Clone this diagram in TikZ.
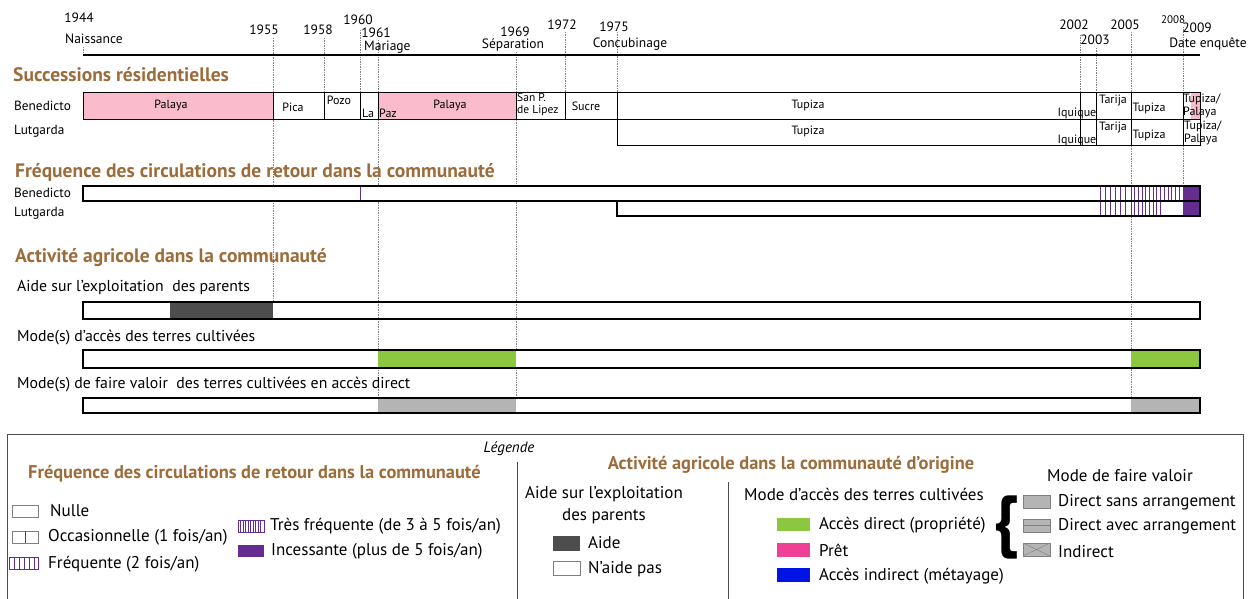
\documentclass[tikz,border=0pt]{standalone}
\usepackage{fontspec}
\setmainfont{PT Sans}
\definecolor{brn}{RGB}{156,108,58}
\definecolor{pinkc}{RGB}{250,188,204}
\definecolor{purp}{RGB}{102,45,145}
\definecolor{darkg}{RGB}{77,77,77}
\definecolor{greenc}{RGB}{141,198,63}
\definecolor{grayc}{RGB}{180,180,180}
\definecolor{hotpink}{RGB}{238,64,150}
\definecolor{bluec}{RGB}{0,20,230}
\newcommand\fsz[1]{\fontsize{#1}{#1}\selectfont}
\tikzset{
 yr/.style={font=\fsz{13.5}, inner sep=0},
 ttl/.style={font=\bfseries\fsz{19.5}, text=brn, anchor=west, inner sep=0},
 rowlbl/.style={font=\fsz{13.3}, anchor=west, inner sep=0},
 celltxt/.style={font=\fsz{12}, inner sep=0},
 cell/.style={draw=black, line width=0.9pt},
 bar/.style={draw=black, line width=1.8pt},
 guide/.style={draw=gray, densely dotted, line width=0.7pt},
 agr/.style={font=\fsz{15.8}, anchor=west, inner sep=0},
 leg/.style={font=\fsz{17}, anchor=west, inner sep=0},
 stripe/.style={draw=purp, line width=1pt},
 swatch/.style={draw=gray, line width=0.6pt},
}
\begin{document}
\begin{tikzpicture}[x=1pt,y=-1pt]
\useasboundingbox (0,0) rectangle (1256,599);
% guides
\foreach \x/\a/\b in {83/47/55,273/38/302,324/38/92,360/30/92,378/40/398,516/52/398,565/32/92,617/32/92,1080/35/92,1096/48/92,1131/32/398,1183/27/186}
  \draw[guide] (\x,\a) -- (\x,\b);
% timeline
\draw[line width=1.3pt] (83,55) coordinate (t0) -- (1200,55) coordinate (t1);
\node[yr] (y1944) at (79,18) {1944};
\node[yr, anchor=west] (naiss) at (65,39) {Naissance};
\node[yr] (y1955) at (264,30) {1955};
\node[yr] (y1958) at (318,30) {1958};
\node[yr] (y1960) at (358,20) {1960};
\node[yr] (y1961) at (376,33) {1961};
\node[yr, anchor=west] (mariage) at (364,47) {Mariage};
\node[yr] (y1969) at (515,32) {1969};
\node[yr] (separ) at (513,45) {Séparation};
\node[yr] (y1972) at (562,25) {1972};
\node[yr] (y1975) at (614,27) {1975};
\node[yr] (concub) at (630,44) {Concubinage};
\node[yr] (y2002) at (1074,25) {2002};
\node[yr] (y2003) at (1095,40) {2003};
\node[yr] (y2005) at (1125,25) {2005};
\node[yr, font=\fsz{11}] (y2008) at (1173,20) {2008};
\node[yr] (y2009) at (1197,28) {2009};
\node[yr] (enq) at (1208,44) {Date enquête};
% residential
\node[ttl] (t1) at (13,75) {Successions résidentielles};
\node[rowlbl] (rb) at (14,106) {Benedicto};
\node[rowlbl] (rl) at (14,131) {Lutgarda};
\draw[cell, fill=pinkc] (83,92) rectangle (273,119);
\draw[cell] (273,92) rectangle (324,119);
\draw[cell] (324,92) rectangle (360,119);
\draw[cell] (360,92) rectangle (378,119);
\draw[cell, fill=pinkc] (378,92) rectangle (516,119);
\draw[cell] (516,92) rectangle (565,119);
\draw[cell] (565,92) rectangle (617,119);
\draw[cell] (617,92) rectangle (1080,119);
\draw[cell] (1080,92) rectangle (1096,119);
\draw[cell] (1096,92) rectangle (1131,119);
\draw[cell] (1131,92) rectangle (1183,119);
\fill[pinkc] (1191,92) rectangle (1200,119);
\draw[cell] (1183,92) rectangle (1200,119);
\draw[cell] (617,119) rectangle (1080,145);
\draw[cell] (1080,119) rectangle (1096,145);
\draw[cell] (1096,119) rectangle (1131,145);
\draw[cell] (1131,119) rectangle (1183,145);
\draw[cell] (1183,119) rectangle (1200,145);
\node[celltxt] (c1) at (171,105) {Palaya};
\node[celltxt] (c2) at (293,107) {Pica};
\node[celltxt] (c3) at (339,100) {Pozo};
\node[celltxt, anchor=west] (c4) at (362,113) {La};
\node[celltxt, anchor=west] (c5) at (379,113) {Paz};
\node[celltxt] (c6) at (450,105) {Palaya};
\node[celltxt, anchor=west, align=left, font=\fontsize{11.5}{12}\selectfont] (c7) at (517,105) {San P.\\de Lipez};
\node[celltxt] (c8) at (586,106) {Sucre};
\node[celltxt] (c9) at (808,105) {Tupiza};
\node[celltxt] (c10) at (1077,113) {Iquique};
\node[celltxt] (c11) at (1113,101) {Tarija};
\node[celltxt] (c12) at (1149,108) {Tupiza};
\node[celltxt, anchor=west, align=left, font=\fontsize{12}{13}\selectfont] (c13) at (1183,106) {Tupiza/\\Palaya};
\node[celltxt] (d9) at (808,131) {Tupiza};
\node[celltxt] (d10) at (1077,140) {Iquique};
\node[celltxt] (d11) at (1113,128) {Tarija};
\node[celltxt] (d12) at (1149,135) {Tupiza};
\node[celltxt, anchor=west, align=left, font=\fontsize{12}{13}\selectfont] (d13) at (1184,133) {Tupiza/\\Palaya};
% frequency
\node[ttl] (t2) at (15,172) {Fréquence des circulations de retour dans la communauté};
\node[rowlbl] (fb) at (14,193) {Benedicto};
\node[rowlbl] (fl) at (14,213) {Lutgarda};
\fill[white] (83,186) rectangle (1200,201);
\fill[white] (617,201) rectangle (1200,216);
\draw[stripe] (360,186) -- (360,201);
\foreach \x in {1100,1105,...,1125} { \draw[stripe] (\x,186) -- (\x,201); \draw[stripe] (\x,201) -- (\x,216); }
\foreach \x in {1131,1134.7,...,1180} \draw[stripe] (\x,186) -- (\x,201);
\foreach \x in {1131,1134.7,...,1164} \draw[stripe] (\x,201) -- (\x,216);
\fill[purp] (1183,186) rectangle (1200,216);
\draw[bar] (83,186) rectangle (1200,201);
\draw[bar] (617,201) rectangle (1200,216);
% agriculture
\node[ttl] (t3) at (15,258) {Activité agricole dans la communauté};
\node[agr] (a1) at (17,287) {Aide sur l’exploitation \ des parents};
\fill[darkg] (170,302) rectangle (273,319);
\draw[bar] (83,302) rectangle (1200,319);
\node[agr] (a2) at (17,338) {Mode(s) d'accès des terres cultivées};
\fill[white] (83,350) rectangle (1200,368);
\fill[greenc] (378,350) rectangle (516,368);
\fill[greenc] (1131,350) rectangle (1200,368);
\draw[bar] (83,350) rectangle (1200,368);
\node[agr] (a3) at (17,385) {Mode(s) de faire valoir \ des terres cultivées en accès direct};
\fill[white] (83,398) rectangle (1200,413);
\fill[grayc] (378,398) rectangle (516,413);
\fill[grayc] (1131,398) rectangle (1200,413);
\draw[bar] (83,398) rectangle (1200,413);
% legend
\draw[draw=black!70, line width=0.9pt] (7,600) -- (7,434) -- (1243,434) -- (1243,600);
\node[font=\itshape\fsz{15}, inner sep=0] (legt) at (509,449) {Légende};
\draw[draw=black!70, line width=0.8pt] (517,462) -- (517,600);
\draw[draw=black!70, line width=0.8pt] (728,482) -- (728,600);
\node[ttl, font=\bfseries\fsz{18.4}] (lt1) at (28,474) {Fréquence des circulations de retour dans la communauté};
\draw[swatch] (12,505) rectangle (38,517);
\node[leg] (l1) at (50,511) {Nulle};
\draw[swatch] (12,531) rectangle (38,543);
\draw[stripe] (25,531) -- (25,543);
\node[leg] (l2) at (48,537) {Occasionnelle (1 fois/an)};
\draw[stripe, line width=0.8pt] (9,557) rectangle (38,569);
\foreach \x in {14,19,...,34} \draw[stripe] (\x,557) -- (\x,569);
\node[leg] (l3) at (48,564) {Fréquente (2 fois/an)};
\draw[stripe, line width=0.6pt] (238,520) rectangle (264,532);
\foreach \x in {240.5,243,...,262} \draw[stripe, line width=0.7pt] (\x,520) -- (\x,532);
\node[leg] (l4) at (270,526) {Très fréquente (de 3 à 5 fois/an)};
\fill[purp] (238,545) rectangle (264,557);
\node[leg] (l5) at (271,551) {Incessante (plus de 5 fois/an)};
\node[ttl, font=\bfseries\fsz{18.4}, anchor=center] (lt2) at (791,465) {Activité agricole dans la communauté d’origine};
\node[leg, anchor=center, align=center, font=\fontsize{17}{22}\selectfont] (l6) at (604,505) {Aide sur l'exploitation\\des parents};
\fill[darkg] (553,536) rectangle (580,551);
\node[leg] (l7) at (588,543) {Aide};
\draw[swatch] (553,561) rectangle (580,575);
\node[leg] (l8) at (588,569) {N'aide pas};
\node[leg] (l9) at (744,494) {Mode d'accès des terres cultivées};
\fill[greenc] (777,518) rectangle (810,531);
\node[leg] (l10) at (819,525) {Accès direct (propriété)};
\fill[hotpink] (777,543) rectangle (810,557);
\node[leg] (l11) at (819,550) {Prêt};
\fill[bluec] (777,568) rectangle (810,582);
\node[leg] (l12) at (819,576) {Accès indirect (métayage)};
\node[font=\bfseries\fsz{68}, inner sep=0] (brace) at (1006,527) {\{};
\node[leg] (l13) at (1047,476) {Mode de faire valoir};
\draw[fill=grayc, draw=gray] (1023,495) rectangle (1050,508);
\node[leg] (l14) at (1058,502) {Direct sans arrangement};
\draw[fill=grayc, draw=gray] (1023,519) rectangle (1050,532);
\draw[gray] (1023,525.5) -- (1050,525.5);
\node[leg] (l15) at (1058,526) {Direct avec arrangement};
\draw[fill=grayc, draw=gray] (1023,543) rectangle (1050,556);
\draw[gray] (1023,543) -- (1050,556) (1023,556) -- (1050,543);
\node[leg] (l16) at (1058,552) {Indirect};
\end{tikzpicture}
\end{document}
